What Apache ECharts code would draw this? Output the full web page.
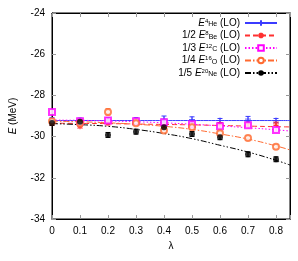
<!DOCTYPE html>
<html><head><meta charset="utf-8">
<script src="https://cdn.jsdelivr.net/npm/echarts@6/dist/echarts.min.js"></script>
<style>html,body{margin:0;padding:0;background:#fff}#c{width:298px;height:261px}</style>
</head><body><div id="c"></div>
<script>
var lambdas = [0, 0.1, 0.2, 0.3, 0.4, 0.5, 0.6, 0.7, 0.8];
var xTicks = [0, 0.1, 0.2, 0.3, 0.4, 0.5, 0.6, 0.7, 0.8];
var yTicks = [-34, -32, -30, -28, -26, -24];
var He = [-29.2, -29.22, -29.2, -29.2, -29.15, -29.17, -29.22, -29.15, -29.22];
var HeErr = [0.12, 0.12, 0.12, 0.12, 0.15, 0.13, 0.1, 0.13, 0.1];
var Be = [-29.35, -29.5, -29.35, -29.25, -29.48, -29.45, -29.4, -29.42, -29.38];
var BeErr = [0.08, 0.08, 0.08, 0.1, 0.08, 0.1, 0.08, 0.08, 0.08];
var C = [-28.8, -29.25, -29.22, -29.25, -29.3, -29.4, -29.5, -29.45, -29.68];
var CErr = [0.05, 0.05, 0.05, 0.05, 0.05, 0.05, 0.06, 0.06, 0.06];
var O = [-29.25, -29.35, -28.8, -29.35, -29.7, -29.55, -29.84, -30.07, -30.49];
var OErr = [0.1, 0.1, 0.15, 0.1, 0.1, 0.1, 0.1, 0.1, 0.1];
var Ne = [-29.34, -29.28, -29.92, -29.76, -29.55, -29.87, -30.03, -30.86, -31.1];
var NeErr = [0.12, 0.12, 0.12, 0.12, 0.12, 0.12, 0.12, 0.12, 0.12];
var fitX = [0, 0.1, 0.2, 0.3, 0.4, 0.5, 0.6, 0.7, 0.8, 0.85];
var fitHe = [-29.22, -29.22, -29.22, -29.22, -29.22, -29.22, -29.22, -29.22, -29.22, -29.22];
var fitBe = [-29.35, -29.36, -29.37, -29.39, -29.41, -29.43, -29.46, -29.49, -29.52, -29.53];
var fitC = [-29.2, -29.21, -29.24, -29.28, -29.33, -29.4, -29.48, -29.57, -29.67, -29.73];
var fitO = [-29.25, -29.28, -29.33, -29.4, -29.5, -29.65, -29.87, -30.12, -30.45, -30.65];
var fitNe = [-29.37, -29.42, -29.5, -29.65, -29.85, -30.1, -30.42, -30.75, -31.15, -31.38];

var FONT = 'Liberation Sans';
var plusPath = 'path://M0,5L10,5M5,0L5,10';
var starPath = 'path://M0,5L10,5M5,0L5,10M1.5,1.5L8.5,8.5M8.5,1.5L1.5,8.5';

var sets = [
  {name: 'He', pref: '', sup: '4', sub: 'He', y: He, e: HeErr, fit: fitHe, color: '#3b3bff', dash: 'solid', sym: plusPath, size: 6},
  {name: 'Be', pref: '1/2 ', sup: '8', sub: 'Be', y: Be, e: BeErr, fit: fitBe, color: '#ff3030', dash: [5, 3], sym: starPath, size: 6},
  {name: 'C', pref: '1/3 ', sup: '12', sub: 'C', y: C, e: CErr, fit: fitC, color: '#ff00ff', dash: [1.5, 2], sym: 'emptyRect', size: 6},
  {name: 'O', pref: '1/4 ', sup: '16', sub: 'O', y: O, e: OErr, fit: fitO, color: '#ff6a30', dash: [6, 2, 1.5, 2], sym: 'emptyCircle', size: 6},
  {name: 'Ne', pref: '1/5 ', sup: '20', sub: 'Ne', y: Ne, e: NeErr, fit: fitNe, color: '#000000', dash: [6, 2, 1.5, 2, 1.5, 2], sym: 'circle', size: 6}
];

function zip(a, b) { return a.map(function (v, i) { return [v, b[i]]; }); }

var series = [];
sets.forEach(function (s) {
  var isPath = s.sym.indexOf('path://') === 0;
  series.push({
    name: s.name, type: 'line', data: zip(fitX, s.fit), smooth: true, showSymbol: false,
    symbol: s.sym, symbolSize: s.size, silent: true, z: 2,
    lineStyle: {color: s.color, width: 1, type: s.dash},
    itemStyle: isPath ? {color: s.color, borderColor: s.color, borderWidth: 1} : {color: s.color}
  });
  series.push({
    name: s.name + '_err', type: 'custom', z: 3, silent: true,
    data: lambdas.map(function (x, i) { return [x, s.y[i] - s.e[i], s.y[i] + s.e[i]]; }),
    renderItem: function (params, api) {
      var lo = api.coord([api.value(0), api.value(1)]);
      var hi = api.coord([api.value(0), api.value(2)]);
      var w = 2.5;
      var st = {stroke: s.color, lineWidth: 1, fill: null};
      return {type: 'group', children: [
        {type: 'line', shape: {x1: lo[0], y1: lo[1], x2: hi[0], y2: hi[1]}, style: st},
        {type: 'line', shape: {x1: lo[0] - w, y1: lo[1], x2: lo[0] + w, y2: lo[1]}, style: st},
        {type: 'line', shape: {x1: hi[0] - w, y1: hi[1], x2: hi[0] + w, y2: hi[1]}, style: st}
      ]};
    }
  });
  series.push({
    name: s.name + '_pts', type: 'scatter', z: 4, silent: true,
    data: zip(lambdas, s.y), symbol: s.sym, symbolSize: s.size,
    itemStyle: isPath ? {color: s.color, borderColor: s.color, borderWidth: 1}
      : (s.sym.indexOf('empty') === 0 ? {color: s.color, borderColor: s.color, borderWidth: 1} : {color: s.color})
  });
});

var rich = {
  t: {fontSize: 10, fontFamily: FONT, color: '#000', lineHeight: 10},
  e: {fontSize: 10, fontFamily: FONT, fontStyle: 'italic', color: '#000', lineHeight: 10},
  sup: {fontSize: 6, fontFamily: FONT, color: '#000', verticalAlign: 'top', lineHeight: 10},
  sub: {fontSize: 7, fontFamily: FONT, color: '#000', verticalAlign: 'bottom', lineHeight: 8, padding: [3, 0, 0, 0]}
};

var chart = echarts.init(document.getElementById('c'), null, {renderer: 'canvas'});
chart.setOption({
  animation: false,
  backgroundColor: '#fff',
  grid: {left: 50, right: 8, top: 13, bottom: 42, show: true, borderColor: '#000', borderWidth: 1},
  legend: {
    data: sets.map(function (s) { return s.name; }),
    orient: 'vertical', align: 'right', right: 20, top: 18, padding: 0,
    itemWidth: 32, itemHeight: 7, itemGap: 2.5,
    selectedMode: false,
    textStyle: {fontSize: 10, fontFamily: FONT, color: '#000', rich: rich},
    formatter: function (n) {
      var s = sets.filter(function (d) { return d.name === n; })[0];
      return (s.pref ? '{t|' + s.pref + '}' : '') + '{e|E}{sup|' + s.sup + '}{sub|' + s.sub + '}{t| (LO)}';
    }
  },
  xAxis: [{
    type: 'value', min: 0, max: 0.85, interval: 0.1,
    name: 'λ', nameLocation: 'middle', nameGap: 21,
    nameTextStyle: {fontSize: 10, fontFamily: FONT, color: '#000'},
    axisLine: {show: true, onZero: false, lineStyle: {color: '#000', width: 1}},
    axisTick: {show: true, inside: true, length: 4, lineStyle: {color: '#999'}},
    axisLabel: {fontSize: 10, fontFamily: FONT, color: '#000', margin: 7,
      formatter: function (v) { return xTicks.some(function (t) { return Math.abs(t - v) < 1e-9; }) ? String(+v.toFixed(2)) : ''; }},
    splitLine: {show: false}
  }, {
    type: 'value', position: 'top', min: 0, max: 0.85, interval: 0.1,
    axisLine: {show: true, onZero: false, lineStyle: {color: '#000', width: 1}},
    axisTick: {show: true, inside: true, length: 4, lineStyle: {color: '#999'}},
    axisLabel: {show: false}, splitLine: {show: false}
  }],
  yAxis: [{
    type: 'value', min: yTicks[0], max: yTicks[yTicks.length - 1], interval: 2,
    name: '{e|E}{t| (MeV)}', nameLocation: 'middle', nameGap: 34,
    nameTextStyle: {fontSize: 10, fontFamily: FONT, color: '#000', rich: {
      e: {fontSize: 10, fontFamily: FONT, fontStyle: 'italic', color: '#000'},
      t: {fontSize: 10, fontFamily: FONT, color: '#000'}}},
    axisLine: {show: true, onZero: false, lineStyle: {color: '#000', width: 1}},
    axisTick: {show: true, inside: true, length: 4, lineStyle: {color: '#999'}},
    axisLabel: {fontSize: 10, fontFamily: FONT, color: '#000', margin: 7},
    splitLine: {show: false}
  }, {
    type: 'value', position: 'right', min: yTicks[0], max: yTicks[yTicks.length - 1], interval: 2,
    axisLine: {show: true, onZero: false, lineStyle: {color: '#000', width: 1}},
    axisTick: {show: true, inside: true, length: 4, lineStyle: {color: '#999'}},
    axisLabel: {show: false}, splitLine: {show: false}
  }],
  series: series
});
</script></body></html>
